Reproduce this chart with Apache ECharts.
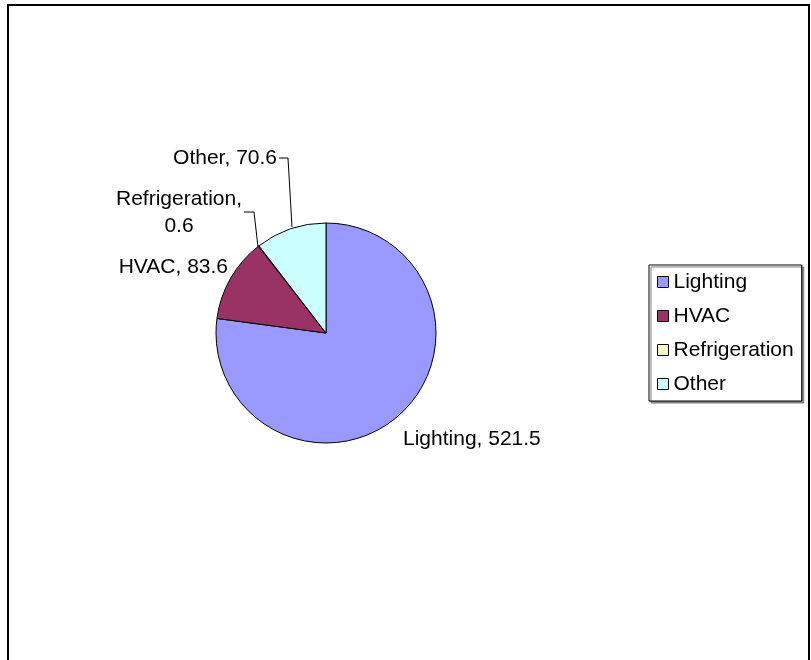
<!DOCTYPE html>
<html>
<head>
<meta charset="utf-8">
<script src="https://cdn.jsdelivr.net/npm/echarts@6/dist/echarts.min.js"></script>
<style>
html,body{margin:0;padding:0;background:#fff;}
#chart{width:811px;height:660px;}
</style>
</head>
<body>
<div id="chart"></div>
<script>
const categories = ['Lighting', 'HVAC', 'Refrigeration', 'Other'];
const values = [521.5, 83.6, 0.6, 70.6];
const colors = ['#9999FF', '#993366', '#FFFFCC', '#CCFFFF'];

const FONT = '"Liberation Sans", Arial, sans-serif';

// label placements (text anchor + leader line) per slice
const labelPlacement = [
  { x: 403, y: 439, align: 'left', verticalAlign: 'middle', line: null },
  { x: 228, y: 267, align: 'right', verticalAlign: 'middle', line: null },
  { x: 179, y: 213, align: 'center', verticalAlign: 'middle',
    line: [[244, 212], [254, 212], [258, 247]] },
  { x: 277, y: 158, align: 'right', verticalAlign: 'middle',
    line: [[279, 158], [288, 158], [292, 227]] }
];

const chart = echarts.init(document.getElementById('chart'), null, { renderer: 'canvas' });

const data = categories.map((name, i) => ({
  name: name,
  value: values[i],
  itemStyle: { color: colors[i] },
  labelLine: { show: !!labelPlacement[i].line }
}));

chart.setOption({
  animation: false,
  backgroundColor: '#fff',
  color: colors,
  graphic: [{
    type: 'rect',
    shape: { x: 8, y: 5, width: 801, height: 700 },
    style: { fill: 'none', stroke: '#000', lineWidth: 2 },
    silent: true
  }],
  legend: {
    orient: 'vertical',
    left: 649,
    top: 265,
    data: categories,
    icon: 'rect',
    itemWidth: 11,
    itemHeight: 11,
    itemGap: 12,
    padding: [6, 8, 6, 8],
    borderColor: '#000',
    borderWidth: 1,
    borderRadius: 0,
    backgroundColor: '#fff',
    shadowColor: '#808080',
    shadowBlur: 0,
    shadowOffsetX: 2,
    shadowOffsetY: 2,
    itemStyle: { borderColor: '#000', borderWidth: 1 },
    textStyle: { fontFamily: FONT, fontSize: 21, color: '#000', lineHeight: 22, padding: [0, 0, 0, 0] },
    selectedMode: false
  },
  series: [{
    type: 'pie',
    center: [326, 333],
    radius: [0, 110],
    startAngle: 90,
    clockwise: true,
    minAngle: 0,
    avoidLabelOverlap: false,
    data: data,
    itemStyle: { borderColor: '#000', borderWidth: 1 },
    emphasis: { disabled: true },
    label: {
      show: true,
      fontFamily: FONT,
      fontSize: 21,
      lineHeight: 27,
      color: '#000',
      formatter: function (p) {
        return p.dataIndex === 2 ? p.name + ',\n' + p.value : p.name + ', ' + p.value;
      }
    },
    labelLine: { show: true, lineStyle: { color: '#000', width: 1 } },
    labelLayout: function (params) {
      const lp = labelPlacement[params.dataIndex];
      const o = { x: lp.x, y: lp.y, align: lp.align, verticalAlign: lp.verticalAlign };
      if (lp.line) o.labelLinePoints = lp.line;
      return o;
    }
  }]
});
</script>
</body>
</html>
